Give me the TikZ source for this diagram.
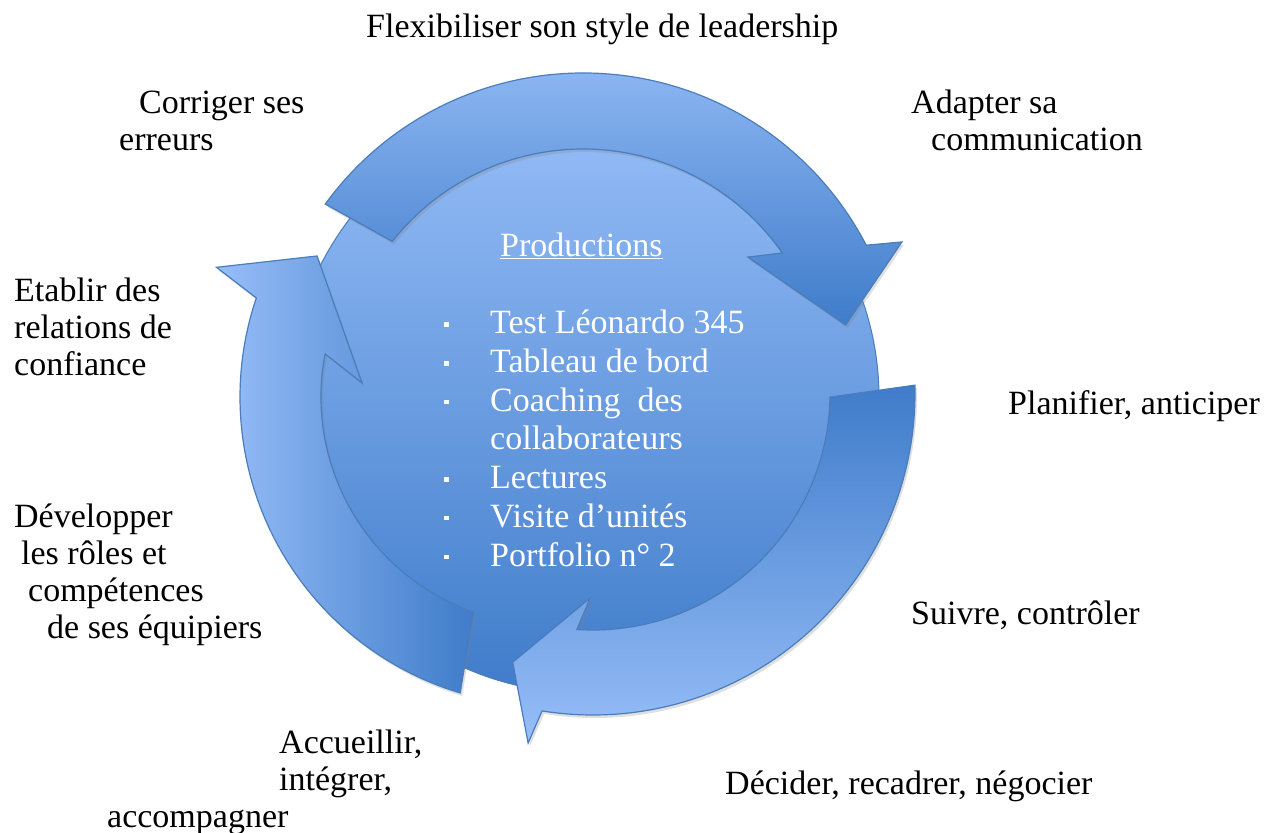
\documentclass[tikz,border=0pt]{standalone}
\usepackage{fontspec}
\setmainfont{Liberation Serif}
\usetikzlibrary{shadows}
\definecolor{ringlight}{HTML}{97BEF8}
\definecolor{ringdark}{HTML}{3F7CCA}
\definecolor{ringline}{HTML}{4A7DBA}
\newcommand{\lblfont}{\fontsize{34}{37}\selectfont}
\newcommand{\listfont}{\fontsize{34}{38.7}\selectfont}
\newcommand{\sqbullet}{\makebox[46pt][l]{\rule[7pt]{4.5pt}{4.5pt}}}

\begin{document}
\begin{tikzpicture}[x=1pt,y=1pt,
	ringarrow/.style={draw=ringline, line width=1.2pt, line join=miter,
		drop shadow={opacity=0.25, shadow xshift=2pt, shadow yshift=-3pt}},
	lbl/.style={anchor=base west, inner sep=0pt, align=left, font=\lblfont}]
				\useasboundingbox (0,0) rectangle (1265,-832);
				
				\draw[draw=ringline, line width=1pt, top color=ringlight, bottom color=ringdark] (584,-398) circle (295pt);
				
				\begin{scope}[shift={(583,-392)}]
				\draw[ringarrow, top color=ringlight, bottom color=ringdark]
					(143.9:319pt) arc[start angle=143.9, end angle=27.4, radius=319pt]
					-- (25.2:352.5pt) -- (14.3:271pt) -- (39.3:213pt) -- (34.9:243pt)
					arc[start angle=34.9, end angle=141.7, radius=243pt] -- cycle;
				\end{scope}
				
				\begin{scope}[shift={(593,-393)}]
				\draw[ringarrow, top color=ringdark, bottom color=ringlight]
					(1.4:322pt) arc[start angle=1.4, end angle=-99.1, radius=322pt]
					-- (-100.5:356pt) -- (-106.6:281pt) -- (-90.8:205pt) -- (-93.9:237pt)
					arc[start angle=-93.9, end angle=-1, radius=237pt] -- cycle;
				\end{scope}
				
				\begin{scope}[shift={(549,-397)}]
				\draw[ringarrow, left color=ringlight, right color=ringdark]
					(253.3:309pt) arc[start angle=253.3, end angle=161.3, radius=309pt]
					-- (158.7:357pt) -- (148.7:271.5pt) -- (175.7:187.5pt) -- (169.1:228pt)
					arc[start angle=169.1, end angle=250.6, radius=228pt] -- cycle;
				\end{scope}
				
				\node[lbl, text=white] (prod) at (500,-256) {\underline{Productions}};
				\node[lbl, text=white, font=\listfont] (list) at (444,-566)
					{\sqbullet Test Léonardo 345\\
					 \sqbullet Tableau de bord\\
					 \sqbullet Coaching~ des\\
					 \hspace*{46pt}collaborateurs\\
					 \sqbullet Lectures\\
					 \sqbullet Visite d’unités\\
					 \sqbullet Portfolio n° 2};
				
				\node[lbl] (flex) at (366,-38) {Flexibiliser son style de leadership};
				\node[lbl] (corr) at (119,-150) {\hspace*{20pt}Corriger ses\\erreurs};
				\node[lbl] (adap) at (911,-150) {Adapter sa\\\hspace*{20pt}communication};
				\node[lbl] (etab) at (14,-375) {Etablir des\\relations de\\confiance};
				\node[lbl] (plan) at (1008,-414) {Planifier, anticiper};
				\node[lbl] (dev) at (14,-638) {Développer\\\hspace*{7pt}les rôles et\\\hspace*{14pt}compétences\\\hspace*{33pt}de ses équipiers};
				\node[lbl] (suiv) at (911,-624) {Suivre, contrôler};
				\node[lbl] (accu) at (107,-827) {\hspace*{172pt}Accueillir,\\\hspace*{172pt}intégrer,\\accompagner};
				\node[lbl] (deci) at (725,-794) {Décider, recadrer, négocier};
			\end{tikzpicture}
\end{document}
